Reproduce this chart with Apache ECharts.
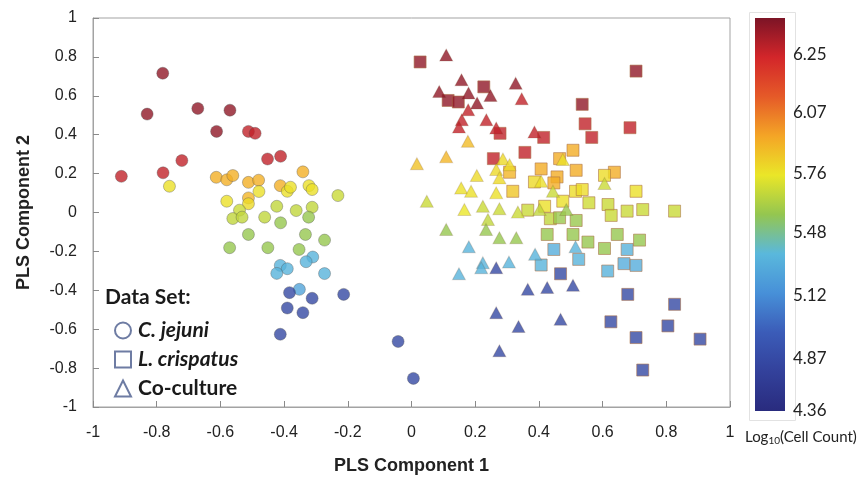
<!DOCTYPE html>
<html>
<head>
<meta charset="utf-8">
<script src="https://cdn.jsdelivr.net/npm/echarts@6/dist/echarts.min.js"></script>
<style>
  html, body { margin: 0; padding: 0; background: #ffffff; }
  #chart { width: 865px; height: 480px; }
</style>
</head>
<body>
<div id="chart"></div>
<script>
(function () {
  'use strict';

  // ── Data: [PLS comp 1, PLS comp 2, log10 cell count] ─────────────────────

  var cJejuni = [
    [-0.781, 0.716, 6.34], [-0.83, 0.506, 6.34], [-0.671, 0.535, 6.34], [-0.57, 0.526, 6.34], [-0.612, 0.417, 6.34],
    [-0.512, 0.417, 6.27], [-0.491, 0.407, 6.27], [-0.721, 0.267, 6.27], [-0.452, 0.275, 6.27], [-0.411, 0.289, 6.27],
    [-0.911, 0.186, 6.27], [-0.78, 0.204, 6.27],
    [-0.613, 0.181, 5.92], [-0.58, 0.168, 5.92], [-0.561, 0.19, 5.92], [-0.512, 0.155, 5.92], [-0.48, 0.166, 5.92],
    [-0.512, 0.075, 5.9], [-0.412, 0.138, 5.92], [-0.341, 0.209, 5.92],
    [-0.76, 0.135, 5.77], [-0.512, 0.045, 5.79], [-0.479, 0.108, 5.77], [-0.39, 0.109, 5.77], [-0.38, 0.13, 5.77],
    [-0.322, 0.138, 5.77], [-0.312, 0.118, 5.77], [-0.58, 0.058, 5.77],
    [-0.231, 0.087, 5.68], [-0.54, 0.012, 5.68], [-0.561, -0.031, 5.66], [-0.532, -0.024, 5.66], [-0.461, -0.024, 5.66],
    [-0.423, 0.032, 5.66], [-0.362, 0.01, 5.66], [-0.312, 0.027, 5.66],
    [-0.323, -0.024, 5.57], [-0.411, -0.053, 5.57], [-0.512, -0.113, 5.57], [-0.571, -0.181, 5.57], [-0.451, -0.181, 5.57],
    [-0.333, -0.113, 5.57], [-0.273, -0.142, 5.57], [-0.353, -0.19, 5.57],
    [-0.31, -0.229, 5.33], [-0.331, -0.253, 5.33], [-0.412, -0.272, 5.33], [-0.39, -0.289, 5.33], [-0.423, -0.313, 5.33],
    [-0.273, -0.314, 5.33], [-0.352, -0.395, 5.25],
    [-0.383, -0.412, 4.85], [-0.312, -0.441, 4.85], [-0.213, -0.421, 4.85], [-0.39, -0.491, 4.85], [-0.341, -0.515, 4.85],
    [-0.412, -0.626, 4.85], [-0.042, -0.663, 4.85], [0.006, -0.853, 4.85]
  ];

  var lCrispatus = [
    [0.027, 0.774, 6.34], [0.227, 0.646, 6.34], [0.115, 0.576, 6.34], [0.147, 0.568, 6.34], [0.705, 0.727, 6.34], [0.536, 0.556, 6.34],
    [0.278, 0.407, 6.27], [0.415, 0.386, 6.27], [0.257, 0.277, 6.27], [0.356, 0.309, 6.27], [0.545, 0.456, 6.27],
    [0.686, 0.436, 6.27], [0.566, 0.386, 6.27],
    [0.465, 0.277, 5.93], [0.507, 0.32, 5.93], [0.308, 0.207, 5.9], [0.407, 0.224, 5.93], [0.517, 0.217, 5.93],
    [0.457, 0.183, 5.93], [0.447, 0.152, 5.93], [0.637, 0.207, 5.93],
    [0.606, 0.191, 5.78], [0.515, 0.109, 5.78], [0.536, 0.118, 5.78], [0.705, 0.109, 5.77], [0.475, 0.058, 5.77],
    [0.386, 0.157, 5.79], [0.318, 0.109, 5.85], [0.418, 0.032, 5.77],
    [0.365, 0.012, 5.68], [0.436, -0.032, 5.66], [0.557, 0.05, 5.69], [0.617, 0.041, 5.68], [0.627, -0.015, 5.68],
    [0.677, 0.007, 5.68], [0.726, 0.015, 5.68], [0.826, 0.007, 5.68],
    [0.465, -0.027, 5.58], [0.517, -0.041, 5.58], [0.426, -0.113, 5.57], [0.507, -0.113, 5.57], [0.554, -0.152, 5.57],
    [0.606, -0.185, 5.57], [0.646, -0.113, 5.57], [0.716, -0.142, 5.57],
    [0.447, -0.19, 5.3], [0.407, -0.27, 5.33], [0.525, -0.241, 5.33], [0.677, -0.19, 5.32], [0.667, -0.263, 5.3],
    [0.705, -0.272, 5.3], [0.616, -0.301, 5.32],
    [0.468, -0.315, 4.85], [0.679, -0.421, 4.85], [0.826, -0.472, 4.85], [0.626, -0.562, 4.85], [0.805, -0.583, 4.85],
    [0.705, -0.643, 4.85], [0.906, -0.651, 4.85], [0.726, -0.81, 4.85]
  ];

  var coCulture = [
    [0.109, 0.81, 6.34], [0.157, 0.682, 6.34], [0.327, 0.665, 6.34], [0.087, 0.622, 6.34], [0.179, 0.614, 6.34],
    [0.248, 0.602, 6.34], [0.206, 0.563, 6.34],
    [0.346, 0.585, 6.27], [0.178, 0.528, 6.27], [0.158, 0.477, 6.27], [0.149, 0.439, 6.27], [0.235, 0.477, 6.27],
    [0.266, 0.434, 6.27], [0.386, 0.414, 6.27],
    [0.177, 0.366, 5.88], [0.017, 0.251, 5.86], [0.109, 0.286, 5.9],
    [0.287, 0.275, 5.79], [0.308, 0.246, 5.79], [0.266, 0.221, 5.79], [0.205, 0.19, 5.79], [0.276, 0.178, 5.79],
    [0.475, 0.272, 5.77], [0.407, 0.161, 5.77], [0.156, 0.126, 5.77], [0.187, 0.109, 5.77], [0.266, 0.101, 5.77],
    [0.166, 0.015, 5.75],
    [0.444, 0.109, 5.68], [0.606, 0.149, 5.68], [0.048, 0.058, 5.68], [0.224, 0.032, 5.68], [0.276, 0.019, 5.68],
    [0.334, 0.002, 5.68], [0.402, 0.015, 5.66], [0.24, -0.036, 5.66],
    [0.486, 0.015, 5.58], [0.109, -0.087, 5.57], [0.234, -0.087, 5.57], [0.276, -0.13, 5.57], [0.329, -0.13, 5.57],
    [0.18, -0.176, 5.33], [0.224, -0.258, 5.33], [0.219, -0.284, 5.33], [0.306, -0.255, 5.33], [0.388, -0.215, 5.33],
    [0.149, -0.315, 5.33], [0.515, -0.176, 5.33],
    [0.266, -0.284, 4.85], [0.365, -0.395, 4.85], [0.426, -0.386, 4.85], [0.507, -0.374, 4.85], [0.266, -0.515, 4.85],
    [0.468, -0.549, 4.85], [0.336, -0.586, 4.85], [0.276, -0.711, 4.85]
  ];

  // colour bar: tick values and where they sit along the bar (0 = bottom, 1 = top)
  var barTickLabels = ['4.36', '4.87', '5.12', '5.48', '5.76', '6.07', '6.25'];
  var barTickValues = [4.36, 4.87, 5.12, 5.48, 5.76, 6.07, 6.25, 6.37];
  var barTickPos = [0, 0.134, 0.293, 0.453, 0.605, 0.76, 0.906, 1];

  // bar colours, evenly spaced bottom -> top
  var barColors = ['#292b7e', '#33419b', '#3b5cb8', '#4790d8', '#5ab8dc', '#94c650',
                   '#eae628', '#f4a526', '#e55a28', '#d3262a', '#7c1426'];

  // ── helpers ───────────────────────────────────────────────────────────────

  // log10 count -> position on the colour bar (piecewise, following the bar's ticks)
  function toBarPos(v) {
    for (var i = 1; i < barTickValues.length; i++) {
      if (v <= barTickValues[i]) {
        var a = barTickValues[i - 1], b = barTickValues[i];
        var t = (v - a) / (b - a);
        return barTickPos[i - 1] + t * (barTickPos[i] - barTickPos[i - 1]);
      }
    }
    return 1;
  }

  function prep(rows) {
    return rows.map(function (r) { return [r[0], r[1], toBarPos(r[2]), r[2]]; });
  }

  var labelFont = 'Liberation Sans, Arial, sans-serif';
  var calibriLike = 'Lato, Carlito, sans-serif';
  var legendIcon = { color: 'rgba(0,0,0,0)', borderColor: '#4a5b8c', borderWidth: 2 };

  var gradientStops = barColors.map(function (c, i) {
    return { offset: i / (barColors.length - 1), color: c };
  });

  var chart = echarts.init(document.getElementById('chart'), null, { renderer: 'canvas' });

  chart.setOption({
    animation: false,
    backgroundColor: '#ffffff',
    grid: [
      { left: 93, top: 18, width: 637, height: 391, show: true, borderColor: '#a3a3a3', borderWidth: 1 },
      { left: 755, top: 18, width: 30, height: 393 }
    ],
    xAxis: [{
      type: 'value', gridIndex: 0, min: -1, max: 1, interval: 0.2,
      name: 'PLS Component 1', nameLocation: 'middle', nameGap: 50,
      nameTextStyle: { fontFamily: labelFont, fontSize: 18, fontWeight: 'bold', color: '#222' },
      axisLine: { onZero: false, lineStyle: { color: '#a3a3a3' } },
      axisTick: { inside: true, length: 6, lineStyle: { color: '#8a8a8a' } },
      axisLabel: { fontFamily: labelFont, fontSize: 16, color: '#222', margin: 18,
        formatter: function (v) { return +v.toFixed(1) + ''; } },
      splitLine: { show: false }
    }, {
      type: 'category', gridIndex: 1, data: ['bar'], show: false
    }],
    yAxis: [{
      type: 'value', gridIndex: 0, min: -1, max: 1, interval: 0.2,
      name: 'PLS Component 2', nameLocation: 'middle', nameGap: 60, nameRotate: 90,
      nameTextStyle: { fontFamily: labelFont, fontSize: 18, fontWeight: 'bold', color: '#222' },
      axisLine: { onZero: false, lineStyle: { color: '#a3a3a3' } },
      axisTick: { inside: true, length: 6, lineStyle: { color: '#8a8a8a' } },
      axisLabel: { fontFamily: labelFont, fontSize: 16, color: '#222', margin: 16,
        formatter: function (v) { return +v.toFixed(1) + ''; } },
      splitLine: { show: false }
    }, {
      type: 'value', gridIndex: 1, min: 0, max: 1, position: 'right',
      axisLine: { show: false },
      splitLine: { show: false },
      axisTick: { show: true, inside: true, length: 4, customValues: barTickPos.slice(1, 7),
        lineStyle: { color: '#333', width: 1 } },
      axisLabel: {
        customValues: barTickPos.slice(0, 7),
        fontFamily: calibriLike, fontSize: 17, color: '#222', margin: 8,
        formatter: function (v) {
          for (var i = 0; i < 7; i++) {
            if (Math.abs(barTickPos[i] - v) < 1e-6) return barTickLabels[i];
          }
          return '';
        }
      }
    }, {
      type: 'value', gridIndex: 1, min: 0, max: 1, position: 'left',
      axisLine: { show: false },
      splitLine: { show: false },
      axisTick: { show: true, inside: true, length: 4, customValues: barTickPos.slice(1, 7),
        lineStyle: { color: '#333', width: 1 } },
      axisLabel: { show: false }
    }],
    visualMap: {
      type: 'continuous', show: false, seriesIndex: [0, 1, 2], dimension: 2,
      min: 0, max: 1, inRange: { color: barColors }
    },
    legend: {
      orient: 'vertical', left: 109, top: 315, selectedMode: false,
      itemWidth: 16, itemHeight: 16, itemGap: 8,
      textStyle: { fontFamily: calibriLike, fontSize: 21, fontWeight: 'bold', color: '#1a1a1a', padding: [0, 0, 0, 2] },
      data: [
        { name: 'C. jejuni', icon: 'circle', itemStyle: legendIcon, textStyle: { fontStyle: 'italic' } },
        { name: 'L. crispatus', icon: 'rect', itemStyle: legendIcon, textStyle: { fontStyle: 'italic' } },
        { name: 'Co-culture', icon: 'triangle', itemStyle: legendIcon }
      ]
    },
    graphic: [
      { type: 'text', left: 105, top: 287,
        style: { text: 'Data Set:', font: 'bold 21px Lato, sans-serif', fill: '#1a1a1a' } },
      { type: 'rect', left: 747, top: 10, shape: { width: 46, height: 408 },
        style: { fill: 'none', stroke: '#e2e2e2', lineWidth: 1 }, z: -1 },
      { type: 'text', left: 745, top: 428,
        style: {
          text: '{n|Log}{s|10}{n|(Cell Count)}',
          rich: {
            n: { fontFamily: calibriLike, fontSize: 15, fill: '#222', lineHeight: 20 },
            s: { fontFamily: calibriLike, fontSize: 10, fill: '#222', lineHeight: 20, padding: [8, 0, 0, 0] }
          }
        } }
    ],
    series: [{
      name: 'C. jejuni', type: 'scatter', xAxisIndex: 0, yAxisIndex: 0,
      symbol: 'circle', symbolSize: 12,
      itemStyle: { borderColor: 'rgba(80,80,80,0.45)', borderWidth: 1 },
      data: prep(cJejuni)
    }, {
      name: 'L. crispatus', type: 'scatter', xAxisIndex: 0, yAxisIndex: 0,
      symbol: 'rect', symbolSize: 12,
      itemStyle: { borderColor: 'rgba(170,110,70,0.7)', borderWidth: 1 },
      data: prep(lCrispatus)
    }, {
      name: 'Co-culture', type: 'scatter', xAxisIndex: 0, yAxisIndex: 0,
      symbol: 'triangle', symbolSize: [13, 12],
      itemStyle: { borderColor: 'rgba(110,70,40,0.25)', borderWidth: 1 },
      data: prep(coCulture)
    }, {
      name: 'colour bar', type: 'bar', xAxisIndex: 1, yAxisIndex: 1,
      barWidth: '100%', silent: true,
      itemStyle: { color: new echarts.graphic.LinearGradient(0, 1, 0, 0, gradientStops) },
      data: [1]
    }]
  });

  window.addEventListener('resize', function () { chart.resize(); });
})();
</script>
</body>
</html>
